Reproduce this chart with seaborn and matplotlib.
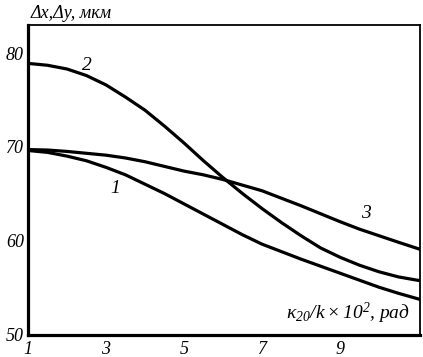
import numpy as np
import pandas as pd
import matplotlib
matplotlib.use("Agg")
import matplotlib.pyplot as plt
import seaborn as sns

# values
x_vals = [1, 1.5, 2, 2.5, 3, 3.5, 4, 4.5, 5, 5.5, 6, 6.5, 7, 7.5, 8, 8.5,
          9, 9.5, 10, 10.5, 11.05]
curve_1 = [69.6, 69.4, 69.0, 68.5, 67.8, 67.0, 66.0, 65.0, 63.9, 62.8, 61.7,
           60.6, 59.6, 58.8, 58.0, 57.25, 56.5, 55.75, 55.0, 54.35, 53.7]
curve_2 = [78.9, 78.7, 78.3, 77.6, 76.6, 75.3, 73.9, 72.2, 70.4, 68.5, 66.7,
           65.0, 63.4, 61.9, 60.5, 59.2, 58.2, 57.35, 56.65, 56.1, 55.7]
curve_3 = [69.7, 69.65, 69.5, 69.3, 69.1, 68.8, 68.4, 67.9, 67.4, 67.0, 66.5,
           65.9, 65.3, 64.5, 63.7, 62.85, 62.0, 61.2, 60.5, 59.8, 59.05]
curve_names = ["1", "2", "3"]
x_ticks = [1, 3, 5, 7, 9]
y_ticks = [50, 60, 70, 80]

df = pd.DataFrame({
    "x": x_vals * 3,
    "y": curve_1 + curve_2 + curve_3,
    "curve": sum([[n] * len(x_vals) for n in curve_names], []),
})

sns.set_theme(style="white")
plt.rcParams["font.family"] = ["Liberation Serif", "DejaVu Serif"]
plt.rcParams["font.style"] = "italic"
plt.rcParams["text.color"] = "black"
plt.rcParams["xtick.color"] = "black"
plt.rcParams["ytick.color"] = "black"
plt.rcParams["mathtext.fontset"] = "custom"
plt.rcParams["mathtext.it"] = "Liberation Serif:italic"
plt.rcParams["mathtext.rm"] = "Liberation Serif"

fig = plt.figure(figsize=(4.23, 3.57), dpi=100)
ax = fig.add_axes([0.0662, 0.0616, 0.9267, 0.8684])

sns.lineplot(data=df, x="x", y="y", units="curve", estimator=None,
             color="black", linewidth=2.3, ax=ax, legend=False)

ax.set_xlim(1, 11.05)
ax.set_ylim(49.9, 83)
ax.set_xticks(np.arange(1, 12, 1), minor=True)
ax.set_xticks(x_ticks)
ax.set_yticks(y_ticks)
ax.tick_params(axis="both", which="both", direction="in", color="black",
               labelcolor="black", labelsize=13, pad=4)
ax.tick_params(axis="x", which="both", length=5, width=1.2)
ax.tick_params(axis="y", length=5, width=1.2, pad=3)
ax.set_xlabel("")
ax.set_ylabel("")

for side in ["left", "bottom"]:
    ax.spines[side].set_linewidth(2.3)
for side in ["top", "right"]:
    ax.spines[side].set_linewidth(1.3)
for s in ax.spines.values():
    s.set_color("black")

# curve numbers
ax.text(3.23, 65.5, "1", fontsize=14, ha="center", va="center")
ax.text(2.51, 78.7, "2", fontsize=14, ha="center", va="center")
ax.text(9.67, 62.9, "3", fontsize=14, ha="center", va="center")

# axis titles
fig.text(0.072, 0.962, "Δx,Δy, мкм", fontsize=13, ha="left", va="center")
ax.text(0.975, 0.07, r"$\mathrm{\kappa}_{20}/k\times10^{2}$, рад",
        transform=ax.transAxes, fontsize=14, ha="right", va="center")

fig.savefig("out.png", dpi=100)
